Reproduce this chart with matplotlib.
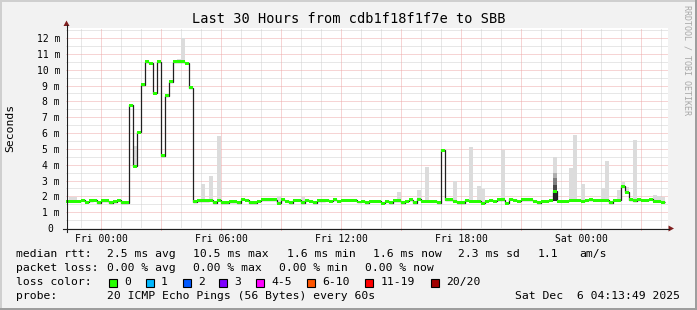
import matplotlib
matplotlib.use("Agg")
import matplotlib.pyplot as plt
from matplotlib.patches import Rectangle, Polygon
from matplotlib.lines import Line2D
import numpy as np

plt.rcParams["font.family"] = ["DejaVu Sans Mono"]

# ──────────────────────────────────────────────
# Data (12-minute consolidated samples, hours relative to Fri 00:00)
# ──────────────────────────────────────────────
t_start = -1.8          # Thu 22:12
t_step = 0.2            # 12 minutes

median_ms = [
    1.68, 1.68, 1.68, 1.68, 1.76, 1.63, 1.72, 1.76, 1.60, 1.72, 1.72, 1.60, 1.66, 1.76, 1.60, 1.60,
    7.75, 3.90, 6.05, 9.06, 10.50, 10.40, 8.50, 10.50, 4.57, 8.37, 9.25, 10.50, 10.50, 10.50, 10.40, 8.87,
    1.65, 1.72, 1.72, 1.72, 1.76, 1.60, 1.74, 1.60, 1.60, 1.66, 1.66, 1.60, 1.82, 1.74, 1.60, 1.60,
    1.68, 1.78, 1.78, 1.78, 1.78, 1.55, 1.80, 1.68, 1.60, 1.75, 1.75, 1.60, 1.74, 1.68, 1.60, 1.72,
    1.72, 1.75, 1.68, 1.78, 1.68, 1.75, 1.75, 1.75, 1.75, 1.64, 1.68, 1.60, 1.68, 1.68, 1.68, 1.55,
    1.68, 1.60, 1.72, 1.72, 1.60, 1.68, 1.78, 1.60, 1.82, 1.68, 1.68, 1.68, 1.68, 1.60, 4.90, 1.78,
    1.78, 1.68, 1.60, 1.60, 1.74, 1.68, 1.68, 1.68, 1.57, 1.68, 1.74, 1.68, 1.78, 1.78, 1.57, 1.82,
    1.74, 1.68, 1.78, 1.78, 1.78, 1.68, 1.60, 1.68, 1.68, 1.74, 2.31, 1.68, 1.68, 1.68, 1.74, 1.74,
    1.74, 1.68, 1.74, 1.80, 1.74, 1.74, 1.74, 1.74, 1.60, 1.76, 1.76, 2.63, 2.25, 1.78, 1.72, 1.78,
    1.74, 1.74, 1.82, 1.68, 1.68, 1.62,
]

# visible smoke (max ping) where it rises above the median band
smoke_bins = [1, 2, 17, 24, 28, 29, 34, 36, 38, 53, 59, 83, 88, 90, 97, 101, 103, 104,
              109, 122, 126, 127, 129, 134, 135, 138, 139, 140, 142, 147, 148, 149]
smoke_tops = [1.93, 1.93, 5.2, 4.7, 10.65, 12.0, 2.8, 3.3, 5.83, 2.0, 1.95, 2.29, 2.42, 3.83,
              3.0, 5.14, 2.67, 2.48, 4.95, 4.48, 3.8, 5.85, 2.8, 2.5, 4.25, 2.38, 2.88, 2.6,
              5.58, 2.1, 2.0, 1.95]

# denser smoke around the median (only one sample shows it)
dense_bins = [122]
dense_low = [1.68]
dense_tops = [[3.47, 3.15, 2.73]]

x_tick_hours = [0, 6, 12, 18, 24]
x_tick_labels = ["Fri 00:00", "Fri 06:00", "Fri 12:00", "Fri 18:00", "Sat 00:00"]
y_ticks = [0, 1, 2, 3, 4, 5, 6, 7, 8, 9, 10, 11, 12]
y_tick_labels = ["0 ", "1 m", "2 m", "3 m", "4 m", "5 m", "6 m", "7 m", "8 m", "9 m",
                 "10 m", "11 m", "12 m"]

rtt_stats = ["2.5 ms avg", "10.5 ms max", "1.6 ms min", "1.6 ms now", "2.3 ms sd", "1.1", "am/s"]
loss_stats = ["0.00 % avg", "0.00 % max", "0.00 % min", "0.00 % now"]
loss_labels = ["0", "1", "2", "3", "4-5", "6-10", "11-19", "20/20"]
loss_colors = ["#26ff00", "#00b8ff", "#0059ff", "#7e00ff", "#ff00ff", "#ff5500", "#ff0000", "#a10000"]

title = "Last 30 Hours from cdb1f18f1f7e to SBB"
probe_text = "20 ICMP Echo Pings (56 Bytes) every 60s"
stamp_text = "Sat Dec  6 04:13:49 2025"

# ──────────────────────────────────────────────
# Layout helpers (pixel coordinates, origin top-left)
# ──────────────────────────────────────────────
W, H = 697, 310
AX_L, AX_B, AX_W, AX_H = 66, 82, 602, 200   # canvas in whole pixels (bottom-up)


def fx(px):
    return px / W


def fy(py):
    return 1 - py / H


MGRID = "#eeaaaa"
GRID = "#d0d0d0"

fig = plt.figure(figsize=(W / 100, H / 100), dpi=100)
fig.patch.set_facecolor("#f2f2f2")

ax = fig.add_axes([AX_L / W, AX_B / H, AX_W / W, AX_H / H])
ax.set_facecolor("white")
for s in ax.spines.values():
    s.set_visible(False)

x_lo = -1.75
x_hi = x_lo + AX_W / 20
y_hi = AX_H / 15.83
ax.set_xlim(x_lo, x_hi)
ax.set_ylim(0, y_hi)

# grid: thin dotted lines, grey every hour / 0.5 ms, red every 3 h / 1 ms
hours = np.arange(-1, 29)
minor_h = [h for h in hours if h % 3 != 0]
major_h = [h for h in hours if h % 3 == 0]
grid_kw = dict(lw=0.72, linestyles=(0, (1, 1)))
ax.vlines(minor_h, 0, y_hi, colors=GRID, zorder=0.5, **grid_kw)
ax.vlines(major_h, 0, y_hi, colors=MGRID, zorder=0.6, **grid_kw)
ax.hlines(np.arange(0.5, 12.6, 1.0), x_lo, x_hi, colors=GRID, zorder=0.5, **grid_kw)
ax.hlines(np.arange(1, 13), x_lo, x_hi, colors=MGRID, zorder=0.6, **grid_kw)

med = np.array(median_ms)
edges = t_start + t_step * np.arange(len(med) + 1)
centers = edges[:-1] + t_step / 2

# smoke
sb = np.array(smoke_bins)
st = np.array(smoke_tops)
ax.bar(centers[sb], st - med[sb], bottom=med[sb], width=t_step,
       color="#dcdcdc", lw=0, zorder=1)
shades = ["#b0b0b0", "#808080", "#484848"]
for b, lo, tops in zip(dense_bins, dense_low, dense_tops):
    for top, c in zip(tops, shades):
        ax.bar(centers[b], top - lo, bottom=lo, width=t_step, color=c, lw=0, zorder=1.2)
    ax.bar(centers[b], med[b] - lo, bottom=lo, width=t_step, color="#262626", lw=0, zorder=1.3)

# median: dark step line + loss-coloured band
ax.stairs(med, edges, baseline=None, color="#202020", lw=0.9, zorder=2)
band = 0.09
ax.bar(centers, 2 * band, bottom=med - band, width=t_step, color=loss_colors[0],
       lw=0, zorder=3)
ax.set_xlim(x_lo, x_hi)
ax.set_ylim(0, y_hi)

# ticks
ax.set_xticks(x_tick_hours, x_tick_labels)
ax.set_xticks([3, 9, 15, 21, 27], minor=True)
ax.tick_params(axis="x", which="both", length=1.6, width=0.72, color="#e68a8a",
               direction="out", pad=2.4, labelsize=7)
ax.set_yticks(y_ticks, y_tick_labels)
ax.tick_params(axis="y", length=0, pad=4.3, labelsize=7)

# axes with arrows
fig.add_artist(Line2D([fx(62.5), fx(669)], [fy(228.5), fy(228.5)], color="#1f1f1f", lw=0.8))
fig.add_artist(Line2D([fx(66.5), fx(66.5)], [fy(231.5), fy(25)], color="#1f1f1f", lw=0.8))
fig.add_artist(Polygon([[fx(63.5), fy(26)], [fx(69.5), fy(26)], [fx(66.5), fy(20.5)]],
                       closed=True, color="#801f1f", lw=0))
fig.add_artist(Polygon([[fx(668.5), fy(225.5)], [fx(668.5), fy(231.5)], [fx(674), fy(228.5)]],
                       closed=True, color="#801f1f", lw=0))

# titles
fig.text(fx(348.5), fy(19), title, ha="center", va="center", fontsize=9.8)
fig.text(fx(10.5), fy(127.5), "Seconds", rotation=90, ha="center", va="center", fontsize=8.2)
fig.text(fx(687.5), fy(60), "RRDTOOL / TOBI OETIKER", rotation=270, ha="center",
         va="center", fontsize=6, color="#a8a8a8")

# legend
fs = 8.2
row_y = [254.3, 268.3, 282.3, 296.0]
fig.text(fx(16), fy(row_y[0]), "median rtt:", va="center", fontsize=fs)
for x, s in zip([107.3, 193.3, 286.7, 372.7, 458.3, 537.3, 579.3], rtt_stats):
    fig.text(fx(x), fy(row_y[0]), s, va="center", fontsize=fs)

fig.text(fx(16), fy(row_y[1]), "packet loss:", va="center", fontsize=fs)
for x, s in zip([107.3, 193.3, 279.3, 365.0], loss_stats):
    fig.text(fx(x), fy(row_y[1]), s, va="center", fontsize=fs)

fig.text(fx(16), fy(row_y[2]), "loss color:", va="center", fontsize=fs)
box_x = [108.7, 145.7, 182.7, 219.3, 256.0, 307.0, 365.0, 431.0]
for bx, lab, c in zip(box_x, loss_labels, loss_colors):
    fig.add_artist(Rectangle((fx(bx), fy(286.5)), 8 / W, 8 / H, facecolor=c,
                             edgecolor="black", lw=0.8))
    fig.text(fx(bx + 15.3), fy(row_y[2]), lab, va="center", fontsize=fs)

fig.text(fx(16), fy(row_y[3]), "probe:", va="center", fontsize=fs)
fig.text(fx(107.3), fy(row_y[3]), probe_text, va="center", fontsize=fs)
fig.text(fx(680), fy(row_y[3]), stamp_text, ha="right", va="center", fontsize=fs)

# 3D frame
fig.add_artist(Rectangle((0, fy(2)), 1, 2 / H, facecolor="#cfcfcf", lw=0))
fig.add_artist(Rectangle((0, 0), 2 / W, 1, facecolor="#cfcfcf", lw=0))
fig.add_artist(Rectangle((0, 0), 1, 2 / H, facecolor="#9e9e9e", lw=0))
fig.add_artist(Rectangle((fx(695), 0), 2 / W, 1, facecolor="#9e9e9e", lw=0))

fig.savefig("out.png", dpi=100, facecolor=fig.get_facecolor())
